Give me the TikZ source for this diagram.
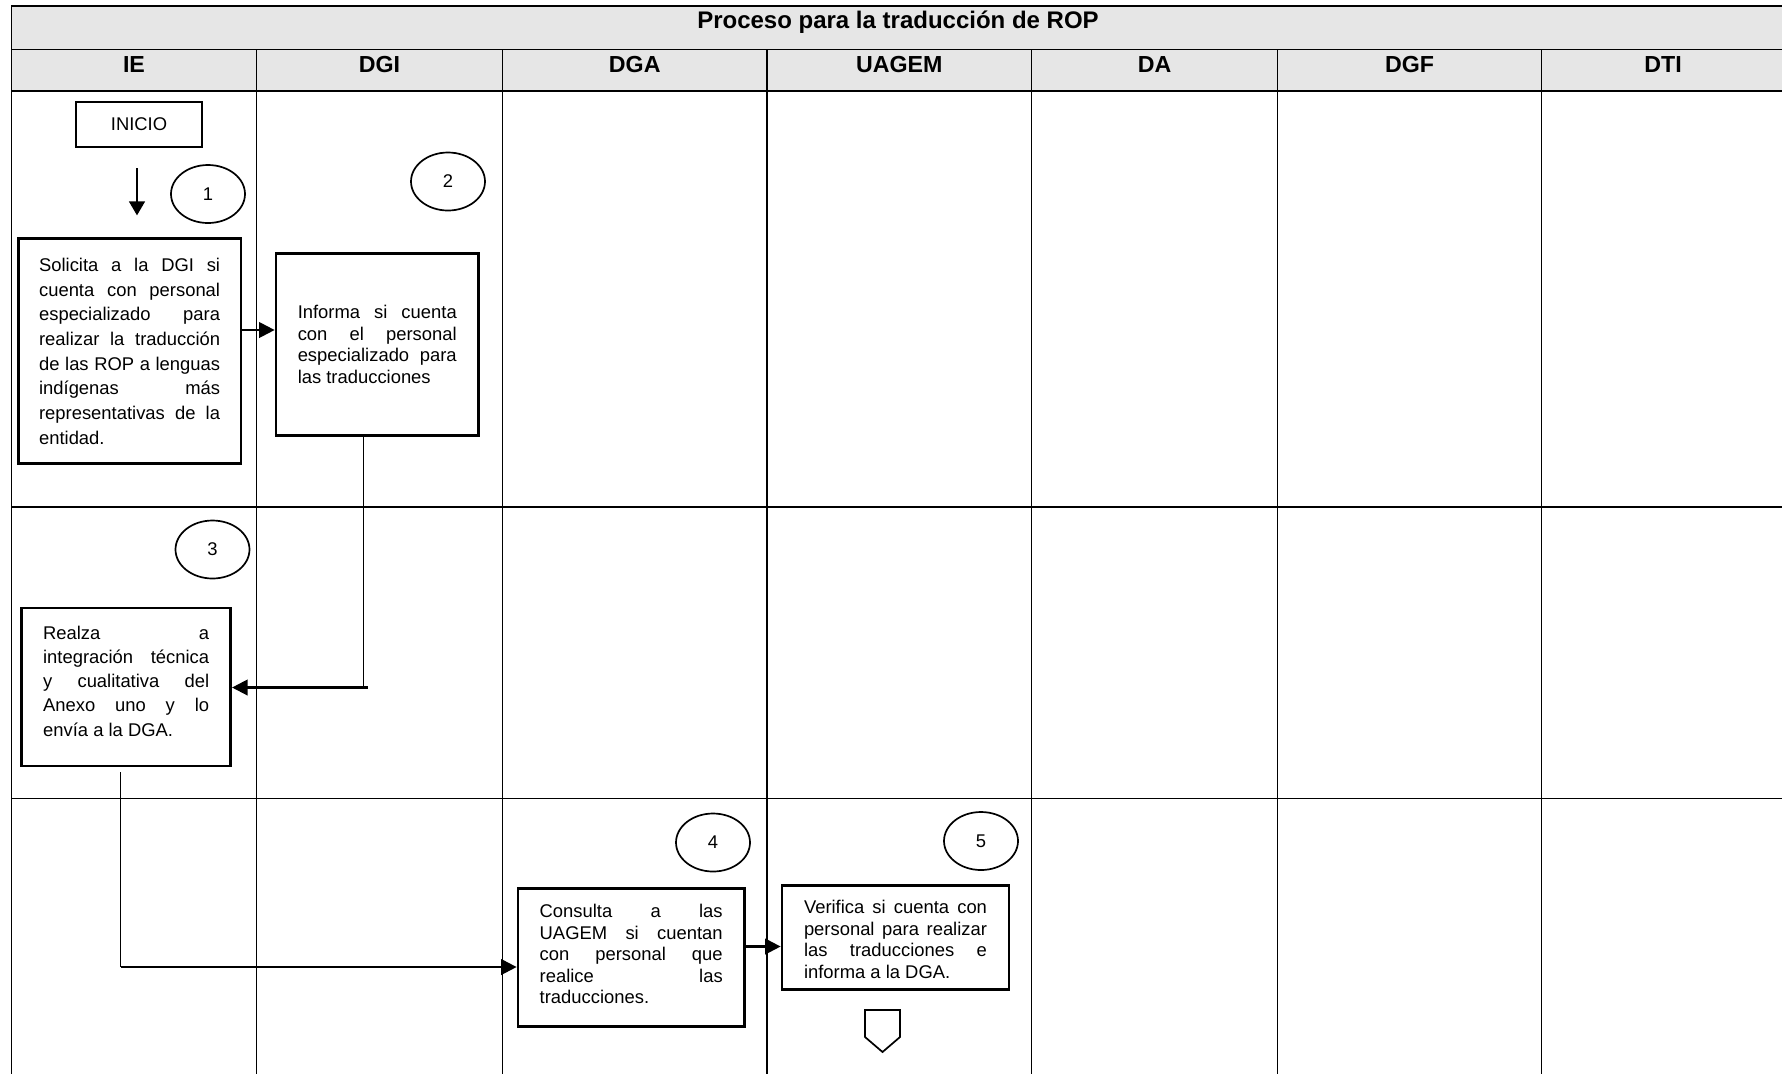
\documentclass[tikz,border=0pt]{standalone}
\usepackage{fontspec}
\setmainfont{Liberation Sans}
\usetikzlibrary{arrows.meta,calc,shapes.geometric}
\definecolor{hdrgray}{RGB}{230,230,230}
\hyphenpenalty=10000
\exhyphenpenalty=10000
\tolerance=10000
\hbadness=10000
\begin{document}
\begin{tikzpicture}[x=0.5pt,y=-0.5pt,
  grid/.style={line width=0.6pt},
  hdrtext/.style={font=\fontsize{11.6pt}{13pt}\selectfont\bfseries, anchor=base, inner sep=0pt},
  stepbox/.style={draw, fill=white, line width=1.35pt, inner xsep=0pt, inner ysep=0pt, align=justify},
  startbox/.style={draw, fill=white, line width=1.35pt, inner sep=0pt, font=\fontsize{9.2pt}{11pt}\selectfont},
  numcirc/.style={draw, ellipse, line width=0.85pt, minimum width=37pt, minimum height=29pt, inner sep=0pt, font=\fontsize{9.2pt}{11pt}\selectfont},
  arr/.style={line width=1.1pt, -{Triangle[length=7.8pt,width=7.8pt]}},
  thinarr/.style={line width=0.7pt, -{Triangle[length=7pt,width=8pt]}},
  thinline/.style={line width=0.55pt},
  offpage/.style={line width=0.85pt},
]
\useasboundingbox (0,0) rectangle (1782,1073);
\clip (0,0) rectangle (1782,1073);
% table
\fill[hdrgray] (11.5,6) rectangle (1790,91);
\draw[grid] (11.5,1080) -- (11.5,6) -- (1790,6);
\foreach \yy in {49.3,91,507,798.5} \draw[grid] (11.5,\yy) -- (1790,\yy);
\foreach \xx in {256.5,502.5,767,1031.5,1277.5,1541.5} \draw[grid] (\xx,49.3) -- (\xx,1080);
% titles
\node[hdrtext, font=\fontsize{12pt}{14pt}\selectfont\bfseries] (title) at (898,28.3) {Proceso para la traducción de ROP};
\node[hdrtext] (hIE) at (134,72.7) {IE};
\node[hdrtext] (hDGI) at (379.5,72.7) {DGI};
\node[hdrtext] (hDGA) at (634.75,72.7) {DGA};
\node[hdrtext] (hUAGEM) at (899.25,72.7) {UAGEM};
\node[hdrtext] (hDA) at (1154.5,72.7) {DA};
\node[hdrtext] (hDGF) at (1409.5,72.7) {DGF};
\node[hdrtext] (hDTI) at (1663,72.7) {DTI};
% nodes
\node[startbox, minimum width=63pt, minimum height=22.5pt] (inicio) at (139,124.5) {INICIO};
\node[numcirc] (c1) at (208,194) {1};
\node[numcirc] (c2) at (448,181.5) {2};
\node[numcirc] (c3) at (212.5,549.5) {3};
\node[numcirc] (c4) at (713,842.5) {4};
\node[numcirc] (c5) at (981,841) {5};
\node[stepbox, text width=90.5pt, minimum width=111.4pt, minimum height=112.5pt,
  font=\fontsize{9.2pt}{12.35pt}\selectfont] (b1) at (129.6,351.2)
  {Solicita a la DGI si\linebreak cuenta con personal\linebreak especializado para\linebreak realizar la traducción\linebreak de las ROP a lenguas\linebreak indígenas más\linebreak representativas de la\linebreak entidad.};
\node[stepbox, text width=79.5pt, minimum width=101.25pt, minimum height=90.95pt,
  font=\fontsize{9.2pt}{10.8pt}\selectfont] (b2) at (377.25,344.35)
  {Informa si cuenta\linebreak con el personal\linebreak especializado para\linebreak las traducciones};
\node[stepbox, text width=83pt, minimum width=104.55pt, minimum height=79pt,
  font=\fontsize{9.2pt}{12.1pt}\selectfont] (b3) at (126.15,687)
  {Realza a\linebreak integración técnica\linebreak y cualitativa del\linebreak Anexo uno y lo\linebreak envía a la DGA.\rule[-6pt]{0pt}{6pt}};
\node[stepbox, text width=91.5pt, minimum width=113.2pt, minimum height=69.05pt,
  font=\fontsize{9.2pt}{10.7pt}\selectfont] (b4) at (631.2,957.45)
  {Consulta a las\linebreak UAGEM si cuentan\linebreak con personal que\linebreak realice las\linebreak traducciones.\rule[-3.5pt]{0pt}{3.5pt}};
\node[stepbox, text width=91.5pt, minimum width=113.5pt, minimum height=51.9pt,
  font=\fontsize{9.2pt}{10.85pt}\selectfont] (b5) at (895.5,937.4)
  {\rule{0pt}{8.6pt}Verifica si cuenta con\linebreak personal para realizar\linebreak las traducciones e\linebreak informa a la DGA.};
% connectors
\draw[thinarr, shorten <=10pt, shorten >=11pt] ([xshift=-1pt]inicio.south) -- ([xshift=-1pt]inicio.south |- b1.north);
\draw[arr] (b1.east |- 0,330) -- (b2.west |- 0,330);
\coordinate (k23) at (363.5,687.5);
\draw[thinline] (b2.south -| k23) -- (k23);
\draw[arr] ([xshift=2.2pt]k23) -- (b3.east |- k23);
\coordinate (k34) at (120.5,967);
\draw[thinline] ([yshift=-2.5pt]b3.south -| k34) -- (k34);
\draw[arr] (k34) -- (b4.west |- k34);
\draw[arr] (b4.east |- 0,946.5) -- (b5.west |- 0,946.5);
% off-page connector
\draw[offpage] (865,1010) -- (900,1010) -- (900,1037) -- (882.5,1052) -- (865,1037) -- cycle;
\end{tikzpicture}
\end{document}
